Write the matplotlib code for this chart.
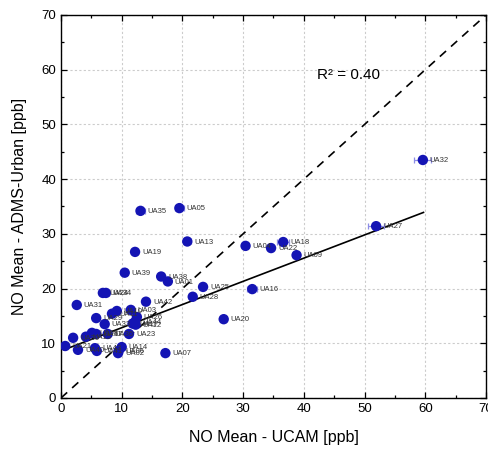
import matplotlib
matplotlib.use("Agg")
import matplotlib.pyplot as plt

plt.rcParams['font.family'] = ['Liberation Sans', 'DejaVu Sans']

# Station labels, UCAM mean (x), ADMS-Urban mean (y), UCAM error (x)
stations = ["UA32", "UA27", "UA35", "UA05", "UA13", "UA04", "UA18", "UA22",
            "UA09", "UA19", "UA39", "UA38", "UA01", "UA25", "UA16", "UA28",
            "UA20", "UA07", "UA31", "UA24", "UA34", "UA42",
            "UA21", "UA30", "UA40", "UA15", "UA08", "UA37", "UA29", "UA43",
            "UA41", "UA33", "UA36", "UA11", "UA10", "UA03", "UA26", "UA44",
            "UA17", "UA12", "UA23", "UA14", "UA06", "UA02"]
ucam = [59.6, 51.9, 13.1, 19.5, 20.8, 30.4, 36.6, 34.6,
        38.8, 12.2, 10.5, 16.5, 17.6, 23.4, 31.5, 21.7,
        26.8, 17.2, 2.6, 6.9, 7.4, 14.0,
        0.7, 2.0, 2.8, 4.1, 5.1, 5.8, 5.8, 5.6,
        5.9, 7.2, 7.7, 8.4, 9.2, 11.5, 12.5, 12.2,
        11.8, 12.3, 11.2, 10.0, 9.5, 9.4]
adms = [43.5, 31.4, 34.2, 34.7, 28.6, 27.8, 28.5, 27.4,
        26.1, 26.7, 22.9, 22.2, 21.3, 20.3, 19.9, 18.5,
        14.4, 8.2, 17.0, 19.2, 19.2, 17.6,
        9.5, 11.0, 8.8, 11.2, 11.9, 11.7, 14.6, 9.1,
        8.6, 13.5, 11.7, 15.4, 15.9, 16.1, 14.8, 13.9,
        13.6, 13.4, 11.7, 9.3, 8.6, 8.2]
ucam_err = [1.4, 1.3, 0.8, 0.8, 0.6, 0.3, 1.0, 0.3,
            0.3, 0.2, 0.2, 0.2, 0.2, 0.3, 0.8, 0.2,
            0.3, 0.2, 0.2, 0.5, 0.5, 0.2,
            0.2, 0.2, 0.2, 0.2, 0.2, 0.2, 0.2, 0.2,
            0.2, 0.2, 0.2, 0.2, 0.2, 0.2, 0.2, 0.2,
            0.2, 0.2, 0.2, 0.2, 0.2, 0.2]

# Regression line
fit_x = [0.5, 59.7]
fit_intercept = 8.6
fit_slope = 0.424
r2_text = "R\u00b2 = 0.40"

fig = plt.figure(figsize=(4.89, 4.50), dpi=100)
ax = fig.add_axes([0.1247, 0.1156, 0.8692, 0.8511])

ax.grid(True, which='major', linestyle=(0, (2, 2)), color='#cccccc', linewidth=0.8)
ax.set_axisbelow(True)

ax.plot([0, 70], [0, 70], color='black', linestyle=(0, (5, 4)), linewidth=1.2, zorder=2)
ax.plot(fit_x, [fit_intercept + fit_slope * v for v in fit_x],
        color='black', linewidth=1.2, zorder=2)

ax.errorbar(ucam, adms, xerr=ucam_err, fmt='none', ecolor='#8c8ce6',
            elinewidth=0.9, capsize=2.5, capthick=0.9, zorder=3)
ax.scatter(ucam, adms, s=56, color='#1414b4', edgecolors='none', zorder=4)

for name, x, y in zip(stations, ucam, adms):
    ax.annotate(name, (x, y), xytext=(5, -0.5), textcoords='offset points',
                fontsize=5.5, color='#333333', va='center', ha='left', zorder=5)

ax.text(42.2, 59.0, r2_text, fontsize=11, ha='left', va='center')

ax.set_xlim(0, 70)
ax.set_ylim(0, 70)
ax.set_xticks(range(0, 71, 10))
ax.set_yticks(range(0, 71, 10))
ax.set_xticks(range(5, 70, 10), minor=True)
ax.set_yticks(range(5, 70, 10), minor=True)
ax.tick_params(which='both', direction='in', top=True, right=True, labelsize=9.5)
ax.tick_params(which='major', length=4, width=0.9)
ax.tick_params(which='minor', length=2.5, width=0.9)
for sp in ax.spines.values():
    sp.set_linewidth(1.0)

ax.set_xlabel("NO Mean - UCAM [ppb]", fontsize=11.5, labelpad=11)
ax.set_ylabel("NO Mean - ADMS-Urban [ppb]", fontsize=11.5, labelpad=10)

fig.savefig("out.png", dpi=100)
